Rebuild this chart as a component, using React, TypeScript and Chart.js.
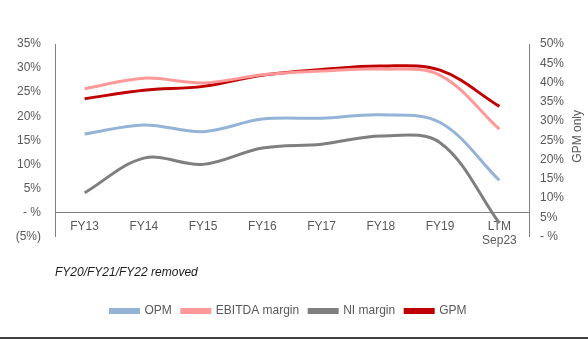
import React, { useEffect, useRef } from "react";
import { Chart, registerables } from "chart.js";

Chart.register(...registerables);

const categories: (string | string[])[] = ["FY13", "FY14", "FY15", "FY16", "FY17", "FY18", "FY19", ["LTM", "Sep23"]];
const opm = [16.3, 18.2, 16.8, 19.4, 19.6, 20.3, 18.7, 6.7];
const ebitda = [25.7, 27.9, 26.9, 28.6, 29.4, 29.8, 28.5, 17.3];
const niMargin = [4.1, 11.3, 10.0, 13.4, 14.2, 15.9, 14.5, -2.2];
const gpm = [35.8, 38.0, 39.0, 41.9, 43.4, 44.3, 43.2, 33.8];
const noteText = "FY20/FY21/FY22 removed";
const rightAxisTitle = "GPM only";

const FONT = "'Liberation Sans', Arial, sans-serif";
const TICK_COLOR = "#595959";
const AXIS_COLOR = "#808080";

function fmtPct(v: number): string {
  if (Math.abs(v) < 1e-9) return "- %";
  if (v < 0) return `(${Math.abs(v)}%)`;
  return `${v}%`;
}

const rightTitlePlugin = {
  id: "rightTitle",
  afterDraw(chart: any) {
    const { ctx, chartArea } = chart;
    ctx.save();
    ctx.font = `12px ${FONT}`;
    ctx.fillStyle = TICK_COLOR;
    ctx.textAlign = "center";
    ctx.textBaseline = "middle";
    ctx.translate(578, (chartArea.top + chartArea.bottom) / 2 - 4);
    ctx.rotate(-Math.PI / 2);
    ctx.fillText(rightAxisTitle, 0, 0);
    ctx.restore();
  },
};

export default function App() {
  const canvasRef = useRef<HTMLCanvasElement | null>(null);

  useEffect(() => {
    if (!canvasRef.current) return;
    const mk = (label: string, data: number[], color: string, axis: string) => ({
      label,
      data,
      borderColor: color,
      backgroundColor: color,
      borderWidth: 3,
      pointRadius: 0,
      tension: 0.35,
      yAxisID: axis,
    });
    const chart = new Chart(canvasRef.current, {
      type: "line",
      data: {
        labels: categories,
        datasets: [
          mk("OPM", opm, "#95B3D7", "y"),
          mk("EBITDA margin", ebitda, "#FF9999", "y"),
          mk("NI margin", niMargin, "#7F7F7F", "y"),
          mk("GPM", gpm, "#C00000", "y1"),
        ],
      },
      options: {
        animation: false,
        responsive: false,
        maintainAspectRatio: false,
        layout: { padding: { left: 0, right: 11, top: 44, bottom: 12 } },
        plugins: {
          tooltip: { enabled: false },
          subtitle: {
            display: true,
            text: noteText,
            position: "bottom",
            align: "start",
            fullSize: false,
            weight: 500,
            color: "#1a1a1a",
            font: { family: FONT, size: 12, style: "italic", weight: "normal" },
            padding: { top: 29, bottom: 15 },
          },
          legend: {
            position: "bottom",
            labels: {
              boxWidth: 28,
              boxHeight: 3,
              padding: 10,
              color: TICK_COLOR,
              font: { family: FONT, size: 12 },
            },
          },
        },
        scales: {
          x: {
            position: { y: 0 } as any,
            offset: true,
            grid: { display: false, drawTicks: false },
            border: { display: true, color: AXIS_COLOR, width: 1 },
            ticks: {
              color: TICK_COLOR,
              font: { family: FONT, size: 12 },
              padding: 7,
              maxRotation: 0,
              autoSkip: false,
            },
          },
          y: {
            position: "left",
            min: -5,
            max: 35,
            afterFit: (s: any) => { s.width = 55; },
            grid: { display: false, drawTicks: false },
            border: { display: true, color: AXIS_COLOR, width: 1 },
            ticks: {
              stepSize: 5,
              color: TICK_COLOR,
              font: { family: FONT, size: 12 },
              padding: 14,
              callback: (v: any) => fmtPct(Number(v)),
            },
          },
          y1: {
            position: "right",
            min: 0,
            max: 50,
            afterFit: (s: any) => { s.width = 48; },
            grid: { display: false, drawTicks: false },
            border: { display: true, color: AXIS_COLOR, width: 1 },
            ticks: {
              stepSize: 5,
              color: TICK_COLOR,
              font: { family: FONT, size: 12 },
              padding: 11,
              callback: (v: any) => fmtPct(Number(v)),
            },
          },
        },
      },
      plugins: [rightTitlePlugin],
    });
    return () => chart.destroy();
  }, []);

  return (
    <div style={{ position: "fixed", left: 0, top: 0, width: 588, height: 339, background: "#fff" }}>
      <canvas ref={canvasRef} width={588} height={339} style={{ display: "block" }} />
      <div style={{ position: "absolute", left: 0, top: 337, width: 588, height: 2, background: "#404040" }} />
    </div>
  );
}
